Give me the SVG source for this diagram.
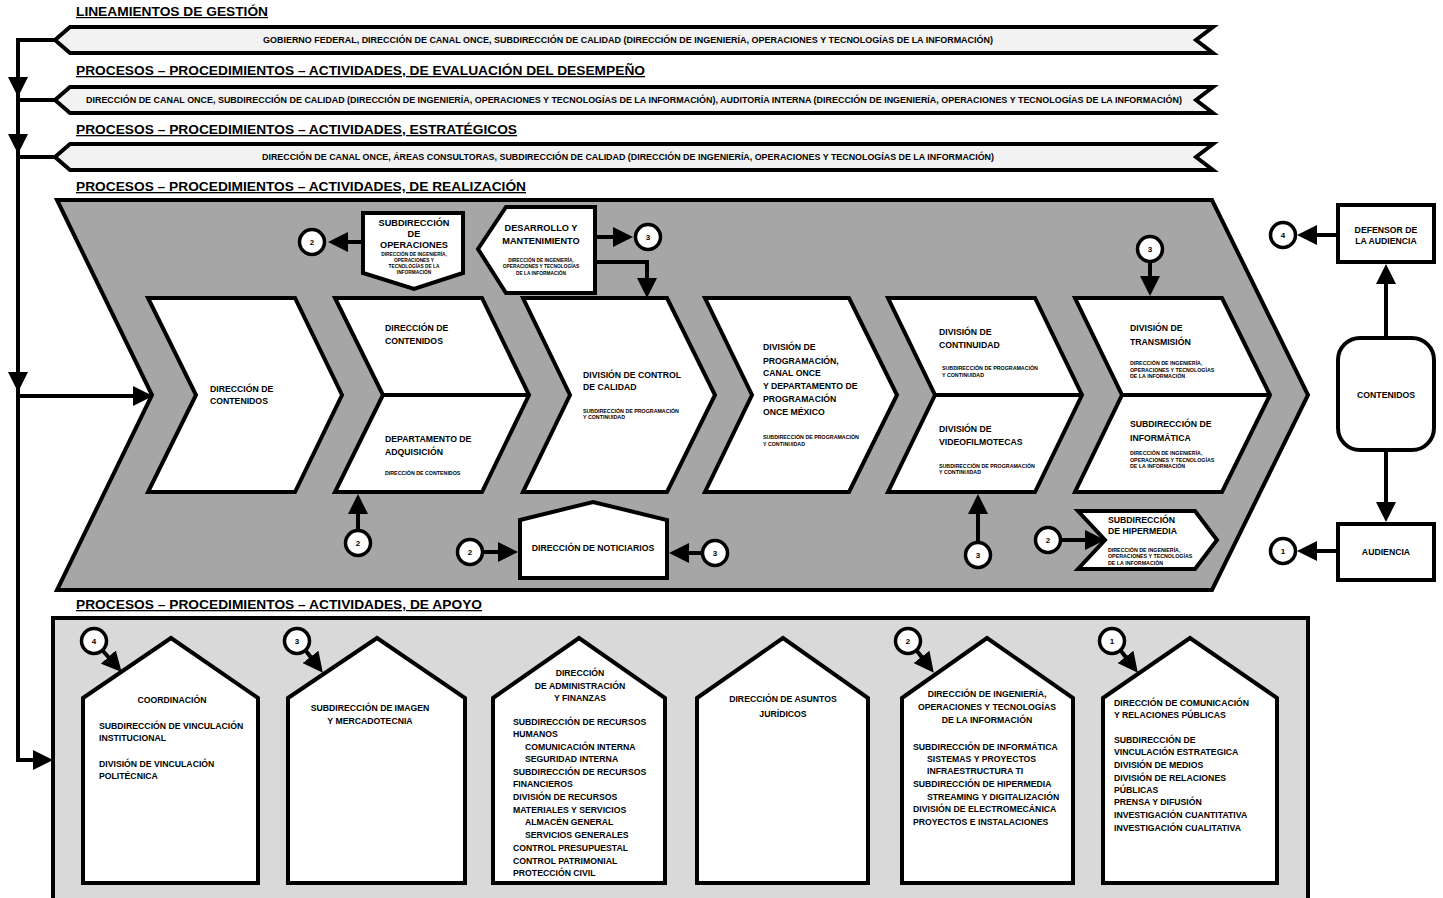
<svg xmlns="http://www.w3.org/2000/svg" width="1443" height="898" viewBox="0 0 1443 898">
<defs>
<style>
text{font-family:"Liberation Sans",Arial,sans-serif;font-weight:bold;fill:#000}
.ttl{font-size:13px;text-decoration:underline}
.rb{font-size:8.6px}
.m{font-size:8.7px}
.ms{font-size:9.2px}
.s{font-size:5.3px}
.xs{font-size:4.8px}
.c{text-anchor:middle}
.n{font-size:8px;text-anchor:middle}
.sh{stroke:#000;stroke-width:4;stroke-linejoin:miter}
.w{fill:#fff}
.rib{fill:#f2f2f2}
.cv{fill:#a6a6a6}
.sup{fill:#d9d9d9}
.cn{stroke:#000;stroke-width:4;fill:none}
.ci{fill:#fff;stroke:#000;stroke-width:3.5}
</style>
<marker id="ah" viewBox="0 0 20 20" refX="4" refY="10" markerWidth="20" markerHeight="20" markerUnits="userSpaceOnUse" orient="auto"><path d="M0,0 L20,10 L0,20 z" fill="#000"/></marker>
</defs>
<rect width="1443" height="898" fill="#fff"/>

<g id="titles">
<text class="ttl" x="76" y="16" style="font-size:12px" textLength="192" lengthAdjust="spacingAndGlyphs">LINEAMIENTOS DE GESTIÓN</text>
<text class="ttl" x="76" y="75" textLength="569" lengthAdjust="spacingAndGlyphs">PROCESOS – PROCEDIMIENTOS – ACTIVIDADES, DE EVALUACIÓN DEL DESEMPEÑO</text>
<text class="ttl" x="76" y="134" textLength="441" lengthAdjust="spacingAndGlyphs">PROCESOS – PROCEDIMIENTOS – ACTIVIDADES, ESTRATÉGICOS</text>
<text class="ttl" x="76" y="191" textLength="450" lengthAdjust="spacingAndGlyphs">PROCESOS – PROCEDIMIENTOS – ACTIVIDADES, DE REALIZACIÓN</text>
<text class="ttl" x="76" y="609" textLength="406" lengthAdjust="spacingAndGlyphs">PROCESOS – PROCEDIMIENTOS – ACTIVIDADES, DE APOYO</text>
</g>

<g id="ribbon-gestion">
<polygon class="sh rib" points="70,27 1213,27 1196,40 1213,53 70,53 55,40"/>
<text class="rb c" x="628" y="43" textLength="730" lengthAdjust="spacingAndGlyphs">GOBIERNO FEDERAL, DIRECCIÓN DE CANAL ONCE,  SUBDIRECCIÓN DE CALIDAD (DIRECCIÓN DE INGENIERÍA, OPERACIONES Y TECNOLOGÍAS DE LA INFORMACIÓN)</text>
</g>
<g id="ribbon-evaluacion">
<polygon class="sh rib" points="70,87 1213,87 1196,100 1213,113 70,113 55,100"/>
<text class="rb c" x="634" y="103" textLength="1096" lengthAdjust="spacingAndGlyphs">DIRECCIÓN DE CANAL ONCE, SUBDIRECCIÓN DE CALIDAD (DIRECCIÓN DE INGENIERÍA, OPERACIONES Y TECNOLOGÍAS DE LA INFORMACIÓN),  AUDITORÍA INTERNA (DIRECCIÓN DE INGENIERÍA, OPERACIONES Y TECNOLOGÍAS DE LA INFORMACIÓN)</text>
</g>
<g id="ribbon-estrategicos">
<polygon class="sh rib" points="70,144 1213,144 1196,157 1213,170 70,170 55,157"/>
<text class="rb c" x="628" y="160" textLength="732" lengthAdjust="spacingAndGlyphs">DIRECCIÓN DE CANAL ONCE, ÁREAS CONSULTORAS, SUBDIRECCIÓN DE CALIDAD (DIRECCIÓN DE INGENIERÍA, OPERACIONES Y TECNOLOGÍAS DE LA INFORMACIÓN)</text>
</g>

<g id="realizacion">
<polygon class="sh cv" points="57,200 1212,200 1308,395 1212,590 57,590 152,395"/>
</g>

<g id="step1">
<polygon class="sh w" points="148,298 295,298 342,395 295,492 148,492 196,395"/>
<text class="m" x="210" y="392">DIRECCIÓN DE</text>
<text class="m" x="210" y="404">CONTENIDOS</text>
</g>
<g id="step2">
<polygon class="sh w" points="335,298 482,298 529,395 482,492 335,492 383,395"/>
<line class="sh" x1="383" y1="395" x2="529" y2="395"/>
<text class="m" x="385" y="331">DIRECCIÓN DE</text>
<text class="m" x="385" y="344">CONTENIDOS</text>
<text class="m" x="385" y="442">DEPARTAMENTO DE</text>
<text class="m" x="385" y="455">ADQUISICIÓN</text>
<text class="s" x="385" y="475">DIRECCIÓN DE CONTENIDOS</text>
</g>
<g id="step3">
<polygon class="sh w" points="523,298 667,298 715,395 667,492 523,492 570,395"/>
<text class="m" x="583" y="378">DIVISIÓN DE CONTROL</text>
<text class="m" x="583" y="390">DE CALIDAD</text>
<text class="s" x="583" y="413">SUBDIRECCIÓN DE PROGRAMACIÓN</text>
<text class="s" x="583" y="419">Y CONTINUIDAD</text>
</g>
<g id="step4">
<polygon class="sh w" points="705,298 849,298 897,395 849,492 705,492 752,395"/>
<text class="m" x="763" y="350">DIVISIÓN DE</text>
<text class="m" x="763" y="364">PROGRAMACIÓN,</text>
<text class="m" x="763" y="376">CANAL ONCE</text>
<text class="m" x="763" y="389">Y DEPARTAMENTO DE</text>
<text class="m" x="763" y="402">PROGRAMACIÓN</text>
<text class="m" x="763" y="415">ONCE MÉXICO</text>
<text class="s" x="763" y="439">SUBDIRECCIÓN DE PROGRAMACIÓN</text>
<text class="s" x="763" y="446">Y CONTINUIDAD</text>
</g>
<g id="step5">
<polygon class="sh w" points="888,298 1035,298 1082,395 1035,492 888,492 935,395"/>
<line class="sh" x1="935" y1="395" x2="1082" y2="395"/>
<text class="m" x="939" y="335">DIVISIÓN DE</text>
<text class="m" x="939" y="348">CONTINUIDAD</text>
<text class="s" x="942" y="370">SUBDIRECCIÓN DE PROGRAMACIÓN</text>
<text class="s" x="942" y="377">Y CONTINUIDAD</text>
<text class="m" x="939" y="432">DIVISIÓN DE</text>
<text class="m" x="939" y="445">VIDEOFILMOTECAS</text>
<text class="s" x="939" y="468">SUBDIRECCIÓN DE PROGRAMACIÓN</text>
<text class="s" x="939" y="474">Y CONTINUIDAD</text>
</g>
<g id="step6">
<polygon class="sh w" points="1075,298 1222,298 1270,395 1222,492 1075,492 1122,395"/>
<line class="sh" x1="1122" y1="395" x2="1270" y2="395"/>
<text class="m" x="1130" y="331">DIVISIÓN DE</text>
<text class="m" x="1130" y="345">TRANSMISIÓN</text>
<text class="s" x="1130" y="365">DIRECCIÓN DE INGENIERÍA,</text>
<text class="s" x="1130" y="372">OPERACIONES Y TECNOLOGÍAS</text>
<text class="s" x="1130" y="378">DE LA INFORMACIÓN</text>
<text class="m" x="1130" y="427">SUBDIRECCIÓN DE</text>
<text class="m" x="1130" y="441">INFORMÁTICA</text>
<text class="s" x="1130" y="455">DIRECCIÓN DE INGENIERÍA,</text>
<text class="s" x="1130" y="462">OPERACIONES Y TECNOLOGÍAS</text>
<text class="s" x="1130" y="468">DE LA INFORMACIÓN</text>
</g>
<g id="sub-operaciones">
<polygon class="sh w" points="363,213 463,213 463,273 414,289 363,273"/>
<text class="ms c" x="414" y="226">SUBDIRECCIÓN</text>
<text class="ms c" x="414" y="237">DE</text>
<text class="ms c" x="414" y="248">OPERACIONES</text>
<text class="xs c" x="414" y="256">DIRECCIÓN DE INGENIERÍA,</text>
<text class="xs c" x="414" y="262">OPERACIONES Y</text>
<text class="xs c" x="414" y="268">TECNOLOGÍAS DE LA</text>
<text class="xs c" x="414" y="274">INFORMACIÓN</text>
</g>
<g id="desarrollo">
<polygon class="sh w" points="478,249 506,207 595,207 595,293 506,293"/>
<text class="ms c" x="541" y="231">DESARROLLO Y</text>
<text class="ms c" x="541" y="244">MANTENIMIENTO</text>
<text class="xs c" x="541" y="262">DIRECCIÓN DE INGENIERÍA,</text>
<text class="xs c" x="541" y="268">OPERACIONES Y TECNOLOGÍAS</text>
<text class="xs c" x="541" y="275">DE LA INFORMACIÓN</text>
</g>
<g id="noticiarios">
<polygon class="sh w" points="520,520 593,502 667,520 667,578 520,578"/>
<text class="m c" x="593" y="551">DIRECCIÓN DE NOTICIARIOS</text>
</g>
<g id="hipermedia">
<polygon class="sh w" points="1078,511 1195,511 1217,540 1195,569 1078,569 1105,540"/>
<text class="m" x="1108" y="523">SUBDIRECCIÓN</text>
<text class="m" x="1108" y="534">DE HIPERMEDIA</text>
<text class="s" x="1108" y="552">DIRECCIÓN DE INGENIERÍA,</text>
<text class="s" x="1108" y="558">OPERACIONES Y TECNOLOGÍAS</text>
<text class="s" x="1108" y="565">DE LA INFORMACIÓN</text>
</g>
<g id="defensor">
<rect class="sh w" x="1338" y="205" width="96" height="57"/>
<text class="m c" x="1386" y="233">DEFENSOR DE</text>
<text class="m c" x="1386" y="244">LA AUDIENCIA</text>
</g>
<g id="contenidos">
<rect class="sh w" x="1338" y="338" width="96" height="112" rx="22" ry="22"/>
<text class="m c" x="1386" y="398">CONTENIDOS</text>
</g>
<g id="audiencia">
<rect class="sh w" x="1338" y="524" width="96" height="56"/>
<text class="m c" x="1386" y="555">AUDIENCIA</text>
</g>

<g id="apoyo">
<rect class="sh sup" x="53" y="618" width="1255" height="300"/>
</g>
<g id="coordinacion">
<polygon class="sh w" points="83,698 171,638 258,698 258,883 83,883"/>
<text class="m c" x="172" y="703">COORDINACIÓN</text>
<text class="m" x="99" y="729">SUBDIRECCIÓN DE VINCULACIÓN</text>
<text class="m" x="99" y="741">INSTITUCIONAL</text>
<text class="m" x="99" y="767">DIVISIÓN DE VINCULACIÓN</text>
<text class="m" x="99" y="779">POLITÉCNICA</text>
</g>
<g id="imagen">
<polygon class="sh w" points="288,698 377,638 465,698 465,883 288,883"/>
<text class="m c" x="370" y="711">SUBDIRECCIÓN DE IMAGEN</text>
<text class="m c" x="370" y="724">Y MERCADOTECNIA</text>
</g>
<g id="administracion">
<polygon class="sh w" points="493,698 579,638 665,698 665,883 493,883"/>
<text class="m c" x="580" y="676">DIRECCIÓN</text>
<text class="m c" x="580" y="689">DE ADMINISTRACIÓN</text>
<text class="m c" x="580" y="701">Y FINANZAS</text>
<text class="m" x="513" y="725">SUBDIRECCIÓN DE RECURSOS</text>
<text class="m" x="513" y="737">HUMANOS</text>
<text class="m" x="525" y="750">COMUNICACIÓN INTERNA</text>
<text class="m" x="525" y="762">SEGURIDAD INTERNA</text>
<text class="m" x="513" y="775">SUBDIRECCIÓN DE RECURSOS</text>
<text class="m" x="513" y="787">FINANCIEROS</text>
<text class="m" x="513" y="800">DIVISIÓN DE RECURSOS</text>
<text class="m" x="513" y="813">MATERIALES Y SERVICIOS</text>
<text class="m" x="525" y="825">ALMACÉN GENERAL</text>
<text class="m" x="525" y="838">SERVICIOS GENERALES</text>
<text class="m" x="513" y="851">CONTROL PRESUPUESTAL</text>
<text class="m" x="513" y="864">CONTROL PATRIMONIAL</text>
<text class="m" x="513" y="876">PROTECCIÓN CIVIL</text>
</g>
<g id="juridicos">
<polygon class="sh w" points="697,698 783,638 868,698 868,883 697,883"/>
<text class="m c" x="783" y="702">DIRECCIÓN DE ASUNTOS</text>
<text class="m c" x="783" y="717">JURÍDICOS</text>
</g>
<g id="ingenieria">
<polygon class="sh w" points="902,698 987,638 1073,698 1073,883 902,883"/>
<text class="m c" x="987" y="697">DIRECCIÓN DE INGENIERÍA,</text>
<text class="m c" x="987" y="710">OPERACIONES Y TECNOLOGÍAS</text>
<text class="m c" x="987" y="723">DE LA INFORMACIÓN</text>
<text class="m" x="913" y="750">SUBDIRECCIÓN DE INFORMÁTICA</text>
<text class="m" x="927" y="762">SISTEMAS Y PROYECTOS</text>
<text class="m" x="927" y="774">INFRAESTRUCTURA TI</text>
<text class="m" x="913" y="787">SUBDIRECCIÓN DE HIPERMEDIA</text>
<text class="m" x="927" y="800">STREAMING Y DIGITALIZACIÓN</text>
<text class="m" x="913" y="812">DIVISIÓN DE ELECTROMECÁNICA</text>
<text class="m" x="913" y="825">PROYECTOS E INSTALACIONES</text>
</g>
<g id="comunicacion">
<polygon class="sh w" points="1103,698 1190,638 1277,698 1277,883 1103,883"/>
<text class="m" x="1114" y="706">DIRECCIÓN DE COMUNICACIÓN</text>
<text class="m" x="1114" y="718">Y RELACIONES PÚBLICAS</text>
<text class="m" x="1114" y="743">SUBDIRECCIÓN DE</text>
<text class="m" x="1114" y="755">VINCULACIÓN ESTRATEGICA</text>
<text class="m" x="1114" y="768">DIVISIÓN DE MEDIOS</text>
<text class="m" x="1114" y="781">DIVISIÓN DE RELACIONES</text>
<text class="m" x="1114" y="793">PÚBLICAS</text>
<text class="m" x="1114" y="805">PRENSA Y DIFUSIÓN</text>
<text class="m" x="1114" y="818">INVESTIGACIÓN CUANTITATIVA</text>
<text class="m" x="1114" y="831">INVESTIGACIÓN CUALITATIVA</text>
</g>

<g id="connectors">
<path class="cn" d="M57,40 H18 V760 H37" marker-end="url(#ah)"/>
<path class="cn" d="M18,100 H57"/>
<path class="cn" d="M18,157 H57"/>
<path class="cn" d="M18,60 V81" marker-end="url(#ah)"/>
<path class="cn" d="M18,120 V138" marker-end="url(#ah)"/>
<path class="cn" d="M18,350 V376" marker-end="url(#ah)"/>
<path class="cn" d="M18,396 H137" marker-end="url(#ah)"/>
<path class="cn" d="M363,242 H344" marker-end="url(#ah)"/>
<path class="cn" d="M595,237 H617" marker-end="url(#ah)"/>
<path class="cn" d="M595,262 H647 V282" marker-end="url(#ah)"/>
<path class="cn" d="M358,529 V510" marker-end="url(#ah)"/>
<path class="cn" d="M484,552 H502" marker-end="url(#ah)"/>
<path class="cn" d="M701,553 H685" marker-end="url(#ah)"/>
<path class="cn" d="M978,541 V510" marker-end="url(#ah)"/>
<path class="cn" d="M1150,263 V280" marker-end="url(#ah)"/>
<path class="cn" d="M1062,540 H1089" marker-end="url(#ah)"/>
<path class="cn" d="M1338,235 H1313" marker-end="url(#ah)"/>
<path class="cn" d="M1338,551 H1313" marker-end="url(#ah)"/>
<path class="cn" d="M1386,338 V280" marker-end="url(#ah)"/>
<path class="cn" d="M1386,450 V506" marker-end="url(#ah)"/>
<path class="cn" d="M103,651 L111,660" marker-end="url(#ah)"/>
<path class="cn" d="M306,651 L313,660" marker-end="url(#ah)"/>
<path class="cn" d="M917,651 L924,660" marker-end="url(#ah)"/>
<path class="cn" d="M1121,651 L1128,660" marker-end="url(#ah)"/>
</g>

<g id="circles">
<g id="c-ops"><circle class="ci" cx="312" cy="242" r="12.5"/><text class="n" x="312" y="245">2</text></g>
<g id="c-des"><circle class="ci" cx="648" cy="237" r="12.5"/><text class="n" x="648" y="240">3</text></g>
<g id="c-step2"><circle class="ci" cx="358" cy="543" r="12.5"/><text class="n" x="358" y="546">2</text></g>
<g id="c-not2"><circle class="ci" cx="470" cy="552" r="12.5"/><text class="n" x="470" y="555">2</text></g>
<g id="c-not3"><circle class="ci" cx="715" cy="553" r="12.5"/><text class="n" x="715" y="556">3</text></g>
<g id="c-step5"><circle class="ci" cx="978" cy="555" r="12.5"/><text class="n" x="978" y="558">3</text></g>
<g id="c-step6"><circle class="ci" cx="1150" cy="249" r="12.5"/><text class="n" x="1150" y="252">3</text></g>
<g id="c-hiper"><circle class="ci" cx="1048" cy="540" r="12.5"/><text class="n" x="1048" y="543">2</text></g>
<g id="c-def"><circle class="ci" cx="1283" cy="235" r="12.5"/><text class="n" x="1283" y="238">4</text></g>
<g id="c-aud"><circle class="ci" cx="1283" cy="551" r="12.5"/><text class="n" x="1283" y="554">1</text></g>
<g id="c-h1"><circle class="ci" cx="94" cy="641" r="12.5"/><text class="n" x="94" y="644">4</text></g>
<g id="c-h2"><circle class="ci" cx="297" cy="641" r="12.5"/><text class="n" x="297" y="644">3</text></g>
<g id="c-h5"><circle class="ci" cx="908" cy="641" r="12.5"/><text class="n" x="908" y="644">2</text></g>
<g id="c-h6"><circle class="ci" cx="1112" cy="641" r="12.5"/><text class="n" x="1112" y="644">1</text></g>
</g>
</svg>
